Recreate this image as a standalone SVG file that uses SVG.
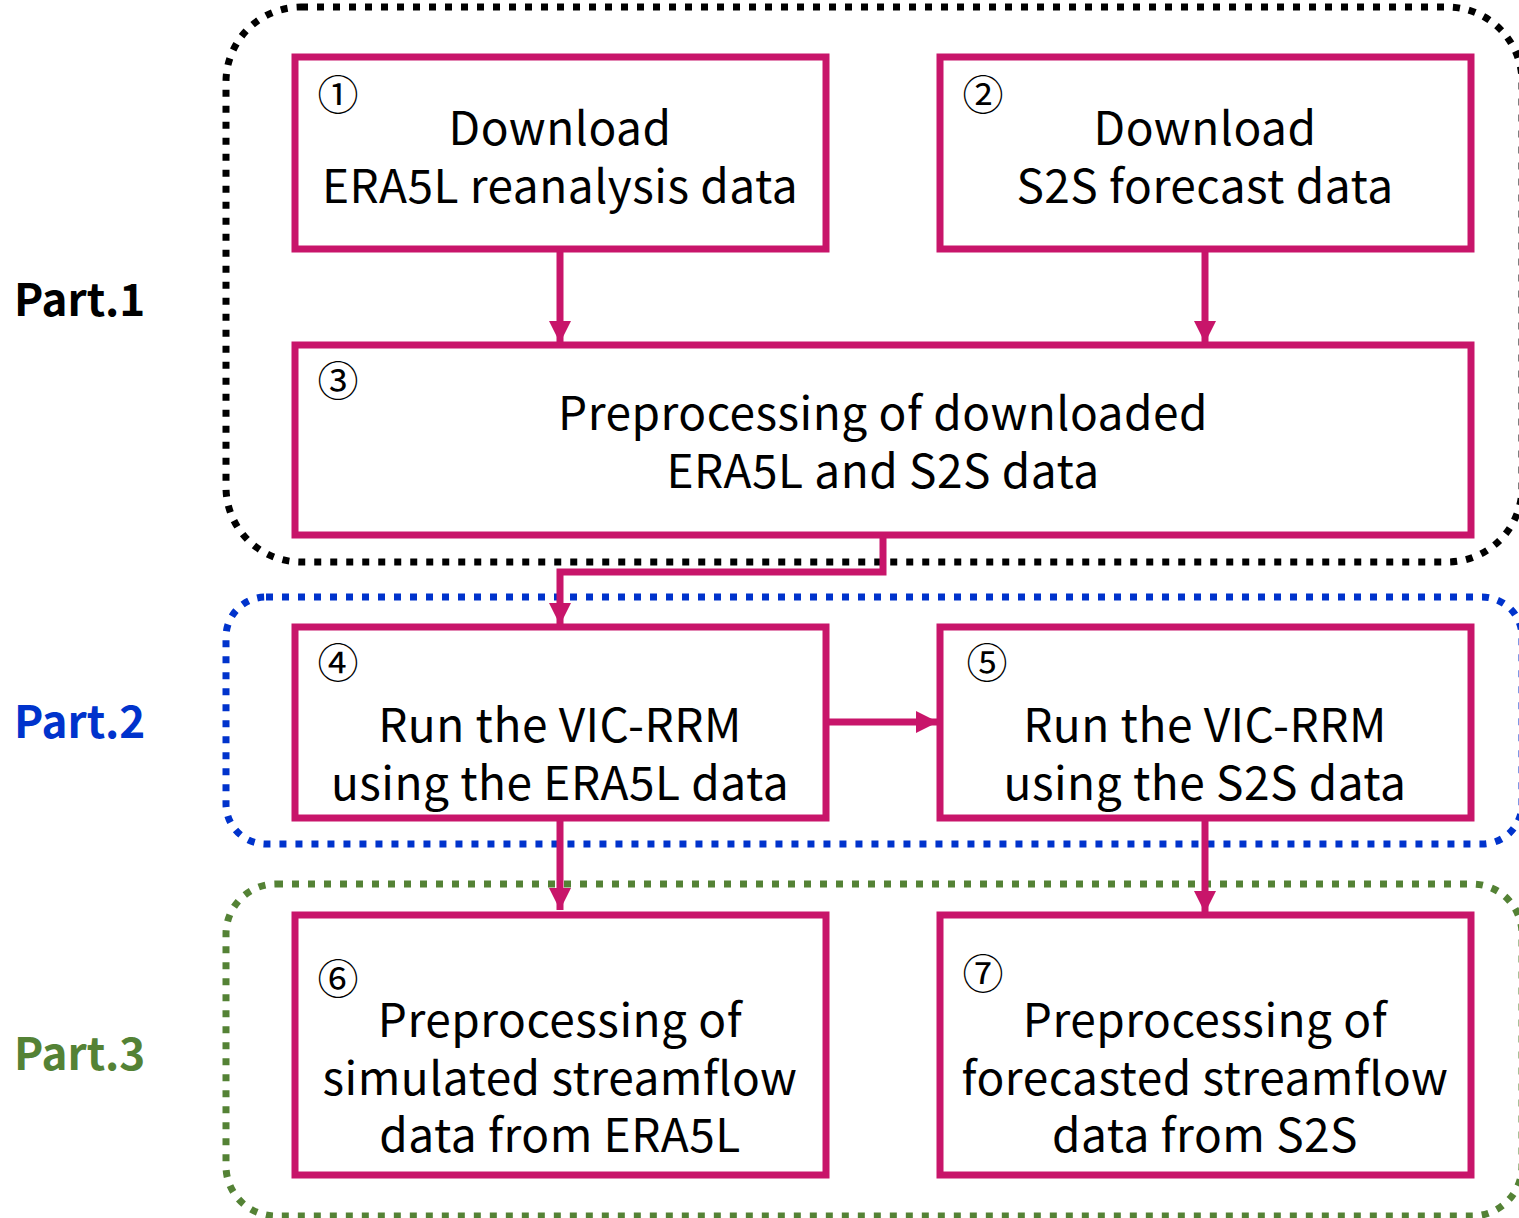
<svg xmlns="http://www.w3.org/2000/svg" width="1519" height="1218" viewBox="0 0 1519 1218">
<style>
.box{fill:#fff;stroke:#C8156A;stroke-width:7}
.t{font-family:"Noto Sans CJK KR","Noto Sans",sans-serif;font-size:46px;letter-spacing:0.5px;fill:#000;text-anchor:middle}
.n{font-family:"Noto Sans CJK KR","DejaVu Sans",sans-serif;font-size:41px;fill:#000;text-anchor:middle}
.p{font-family:"Noto Sans CJK KR","Noto Sans",sans-serif;font-size:44px;font-weight:bold}
.c{fill:none;stroke:#C8156A;stroke-width:7}
.g{fill:none;stroke-width:7;stroke-dasharray:7 9}
</style>
<defs>
<marker id="ah" markerUnits="userSpaceOnUse" markerWidth="24" markerHeight="22" refX="22" refY="11" orient="auto"><path d="M0,0 L22,11 L0,22 Z" fill="#C8156A"/></marker>
</defs>
<g id="groups">
<rect x="226" y="7" width="1296" height="555" rx="75" class="g" stroke="#000"/>
<rect x="226" y="597" width="1296" height="247" rx="40" class="g" stroke="#0033CC"/>
<rect x="226" y="884" width="1296" height="332" rx="50" class="g" stroke="#548235"/>
</g>
<g id="labels">
<text x="14" y="316" class="p" fill="#000">Part.1</text>
<text x="14" y="738" class="p" fill="#0033CC">Part.2</text>
<text x="14" y="1070" class="p" fill="#548235">Part.3</text>
</g>
<g id="connectors">
<path class="c" d="M560,249 V343" marker-end="url(#ah)"/>
<path class="c" d="M1205,249 V343" marker-end="url(#ah)"/>
<path class="c" d="M883,535 V572 H560 V625" marker-end="url(#ah)"/>
<path class="c" d="M826,722 H938" marker-end="url(#ah)"/>
<path class="c" d="M560,818 V910" marker-end="url(#ah)"/>
<path class="c" d="M1205,818 V913" marker-end="url(#ah)"/>
</g>
<g id="n1"><rect x="295" y="57" width="531" height="192" class="box"/><text x="338" y="110" class="n">①</text><text x="560" y="145" class="t">Download</text><text x="560" y="203" class="t">ERA5L reanalysis data</text></g>
<g id="n2"><rect x="940" y="57" width="531" height="192" class="box"/><text x="983" y="110" class="n">②</text><text x="1205" y="145" class="t">Download</text><text x="1205" y="203" class="t">S2S forecast data</text></g>
<g id="n3"><rect x="295" y="345" width="1176" height="190" class="box"/><text x="338" y="396" class="n">③</text><text x="883" y="430" class="t">Preprocessing of downloaded</text><text x="883" y="488" class="t">ERA5L and S2S data</text></g>
<g id="n4"><rect x="295" y="627" width="531" height="191" class="box"/><text x="338" y="678" class="n">④</text><text x="560" y="742" class="t">Run the VIC-RRM</text><text x="560" y="800" class="t">using the ERA5L data</text></g>
<g id="n5"><rect x="940" y="627" width="531" height="191" class="box"/><text x="987" y="678" class="n">⑤</text><text x="1205" y="742" class="t">Run the VIC-RRM</text><text x="1205" y="800" class="t">using the S2S data</text></g>
<g id="n6"><rect x="295" y="915" width="531" height="260" class="box"/><text x="338" y="994" class="n">⑥</text><text x="560" y="1037" class="t">Preprocessing of</text><text x="560" y="1095" class="t">simulated streamflow</text><text x="560" y="1152" class="t">data from ERA5L</text></g>
<g id="n7"><rect x="940" y="915" width="531" height="260" class="box"/><text x="983" y="989" class="n">⑦</text><text x="1205" y="1037" class="t">Preprocessing of</text><text x="1205" y="1095" class="t">forecasted streamflow</text><text x="1205" y="1152" class="t">data from S2S</text></g>
</svg>
